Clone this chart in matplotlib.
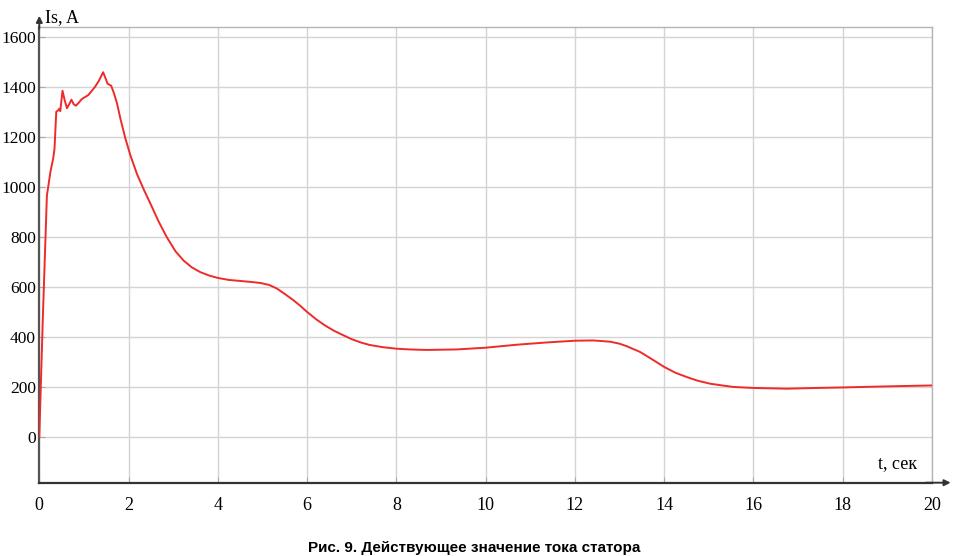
import matplotlib
matplotlib.use("Agg")
import matplotlib.pyplot as plt

t_sec = [0, 0.08, 0.17, 0.25, 0.31, 0.34, 0.38, 0.42, 0.45, 0.47,
         0.52, 0.57, 0.62, 0.67, 0.72, 0.77, 0.82, 0.88, 0.95, 1.02,
         1.10, 1.17, 1.25, 1.33, 1.43, 1.47, 1.53, 1.61, 1.67, 1.74,
         1.82, 1.93, 2.04, 2.19, 2.35, 2.49, 2.67, 2.86, 3.05, 3.23,
         3.42, 3.61, 3.80, 4.0, 4.25, 4.5, 4.75, 4.95, 5.15, 5.32,
         5.5, 5.7, 5.85, 6.0, 6.2, 6.4, 6.6, 6.82, 7.0, 7.2,
         7.4, 7.7, 8.0, 8.3, 8.68, 9.0, 9.35, 10.0, 10.7, 11.37,
         12.0, 12.41, 12.79, 13.0, 13.16, 13.46, 13.68, 14.0, 14.25, 14.5,
         14.75, 15.03, 15.3, 15.55, 16.0, 16.75, 17.42, 18.0, 18.91, 20.0]
current_A = [0, 480, 964, 1060, 1112, 1150, 1300, 1305, 1312, 1302,
             1384, 1345, 1314, 1330, 1348, 1330, 1324, 1335, 1350, 1358,
             1367, 1382, 1400, 1422, 1458, 1440, 1412, 1404, 1375, 1334,
             1270, 1192, 1126, 1050, 985, 932, 862, 797, 742, 705,
             677, 658, 645, 635, 627, 623, 619, 615, 607, 593,
             571, 545, 523, 499, 470, 445, 424, 405, 390, 377,
             367, 358, 352, 349, 347, 348, 349, 356, 368, 377,
             384, 385, 380, 372, 362, 339, 315, 279, 256, 239,
             224, 212, 205, 199, 195, 192, 195, 197, 201, 205]

x_ticks = [0, 2, 4, 6, 8, 10, 12, 14, 16, 18, 20]
y_ticks = [0, 200, 400, 600, 800, 1000, 1200, 1400, 1600]

y_label = "Is, A"
x_label = "t, сек"
caption = "Рис. 9. Действующее значение тока статора"

serif = ["Liberation Serif", "DejaVu Serif"]

fig = plt.figure(figsize=(9.57, 5.56), dpi=100)
ax = fig.add_axes([39.3 / 957, 73.3 / 556, (932 - 39.3) / 957, (482.7 - 26.7) / 556])
ax.set_xlim(0, 20)
ax.set_ylim(-184, 1640)

ax.grid(True, color="#d4d4d4", linewidth=1.0)
ax.set_axisbelow(True)
ax.plot(t_sec, current_A, color="#ee2a2a", linewidth=1.4, zorder=3)

ax.set_xticks(x_ticks)
ax.set_yticks(y_ticks)
ax.set_xticklabels([str(v) for v in x_ticks], fontfamily=serif, fontsize=13)
ax.set_yticklabels([str(v) for v in y_ticks], fontfamily=serif, fontsize=12.5)
ax.tick_params(axis="x", direction="in", length=4, color="#aaaaaa", pad=10)
ax.tick_params(axis="y", direction="in", length=4, color="#aaaaaa", pad=2.5)

for side in ("top", "right"):
    ax.spines[side].set_color("#b5b5b5")
    ax.spines[side].set_linewidth(1.0)
ax.spines["left"].set_color("#555555")
ax.spines["left"].set_linewidth(1.6)
ax.spines["bottom"].set_color("#333333")
ax.spines["bottom"].set_linewidth(1.6)

# axis arrows
ax.annotate("", xy=(0, 1.03), xycoords="axes fraction", xytext=(0, 0.99),
            arrowprops=dict(arrowstyle="-|>", color="#333333", lw=1.4,
                            mutation_scale=9), annotation_clip=False)
ax.annotate("", xy=(1.024, 0), xycoords="axes fraction", xytext=(0.99, 0),
            arrowprops=dict(arrowstyle="-|>", color="#333333", lw=1.4,
                            mutation_scale=9), annotation_clip=False)

fig.text(45 / 957, 1 - 18 / 556, y_label, fontfamily=serif, fontsize=13,
         ha="left", va="center")
fig.text(917 / 957, 1 - 464 / 556, x_label, fontfamily=serif, fontsize=13,
         ha="right", va="center")
fig.text(474 / 957, 1 - 548 / 556, caption, fontfamily=["Liberation Sans", "DejaVu Sans"],
         fontsize=11, fontweight="bold", ha="center", va="center")

fig.savefig("out.png", dpi=100)
